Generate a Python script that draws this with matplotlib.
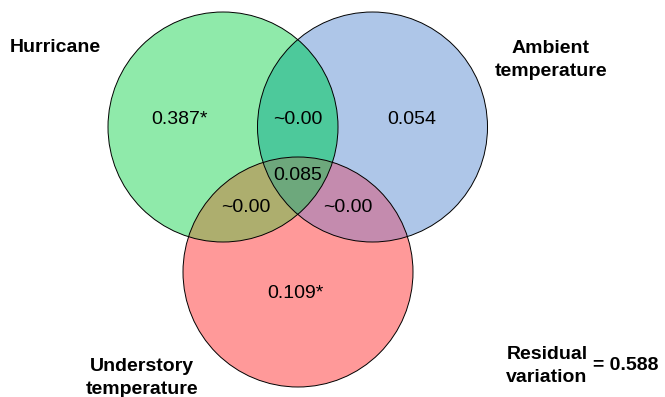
import numpy as np
import matplotlib
matplotlib.use("Agg")
import matplotlib.pyplot as plt
from matplotlib.patches import Circle, Polygon

plt.rcParams['font.family'] = ['Liberation Sans', 'DejaVu Sans']

# variance partitioning values
set_names = ["Hurricane", "Ambient\ntemperature", "Understory\ntemperature"]
only_vals = ["0.387*", "0.054", "0.109*"]          # H, A, U alone
pair_vals = ["~0.00", "~0.00", "~0.00"]            # H&A, H&U, A&U
triple_val = "0.085"
residual = "0.588"

# layout (pixel coords, y downwards)
R = 115
centers = [(223, 127), (372.5, 127), (298, 272)]
fills = ["#8FEAAA", "#AEC6E8", "#FF9999"]
pair_fills = ["#4DC99B", "#ADAE6E", "#C48BAE"]
triple_fill = "#6DA87C"


def inside(pts, c, tol=1e-6):
    return (pts[:, 0] - c[0]) ** 2 + (pts[:, 1] - c[1]) ** 2 <= R ** 2 + tol


def intersection_poly(idx):
    # intersection of circles is convex: gather boundary pts inside all others
    t = np.linspace(0, 2 * np.pi, 2000, endpoint=False)
    pts = []
    for i in idx:
        c = centers[i]
        p = np.column_stack([c[0] + R * np.cos(t), c[1] + R * np.sin(t)])
        mask = np.ones(len(p), bool)
        for j in idx:
            if j != i:
                mask &= inside(p, centers[j], tol=1.0)
        pts.append(p[mask])
    pts = np.vstack(pts)
    ctr = pts.mean(axis=0)
    ang = np.arctan2(pts[:, 1] - ctr[1], pts[:, 0] - ctr[0])
    return pts[np.argsort(ang)]


fig = plt.figure(figsize=(6.65, 3.97), dpi=100)
ax = fig.add_axes([0, 0, 1, 1])
ax.set_xlim(0, 665)
ax.set_ylim(397, 0)
ax.set_aspect('equal')
ax.axis('off')

for c, f in zip(centers, fills):
    ax.add_patch(Circle(c, R, facecolor=f, edgecolor='none', zorder=1))

pairs = [(0, 1), (0, 2), (1, 2)]
for pr, f in zip(pairs, pair_fills):
    ax.add_patch(Polygon(intersection_poly(pr), closed=True, facecolor=f,
                         edgecolor='none', zorder=2))
ax.add_patch(Polygon(intersection_poly((0, 1, 2)), closed=True,
                     facecolor=triple_fill, edgecolor='none', zorder=3))

for c in centers:
    ax.add_patch(Circle(c, R, facecolor='none', edgecolor='black', lw=0.7, zorder=4))

fs = 14
only_pos = [(179, 120), (412, 120), (295, 293)]
pair_pos = [(298, 120), (246, 207), (348, 207)]
for (x, y), s in zip(only_pos, only_vals):
    ax.text(x, y, s, ha='center', va='center', fontsize=fs, zorder=5)
for (x, y), s in zip(pair_pos, pair_vals):
    ax.text(x, y, s, ha='center', va='center', fontsize=fs, zorder=5)
ax.text(298, 176, triple_val, ha='center', va='center', fontsize=fs, zorder=5)

name_pos = [(55, 47), (551, 60), (142, 378)]
for (x, y), s in zip(name_pos, set_names):
    ax.text(x, y, s, ha='center', va='center', fontsize=fs, fontweight='bold',
            linespacing=1.4)

ax.text(547, 366, "Residual\nvariation", ha='center', va='center', fontsize=fs,
        fontweight='bold', linespacing=1.4)
ax.text(626, 366, "= " + residual, ha='center', va='center', fontsize=fs,
        fontweight='bold')

fig.savefig("out.png", dpi=100)
